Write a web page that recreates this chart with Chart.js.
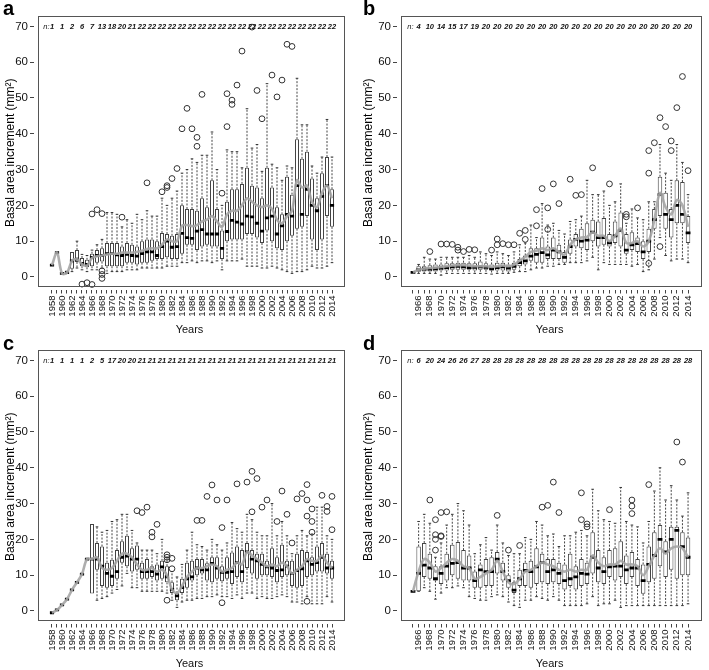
<!DOCTYPE html>
<html>
<head>
<meta charset="utf-8">
<script src="https://cdn.jsdelivr.net/npm/chart.js@4.4.1/dist/chart.umd.min.js"></script>
<style>
  html, body { margin: 0; padding: 0; background: #fff; }
  #wrap { position: relative; width: 709px; height: 670px; }
  canvas { position: absolute; }
</style>
</head>
<body>
<div id="wrap">
  <canvas id="pa" width="354" height="335" style="left:0;top:0;width:354px;height:335px"></canvas>
  <canvas id="pb" width="355" height="335" style="left:354px;top:0;width:355px;height:335px"></canvas>
  <canvas id="pc" width="354" height="335" style="left:0;top:334px;width:354px;height:335px"></canvas>
  <canvas id="pd" width="355" height="335" style="left:354px;top:334px;width:355px;height:335px"></canvas>
</div>
<script>
// categories
const yearsAC = [1958, 1959,
  1960, 1961, 1962, 1963, 1964, 1965, 1966, 1967, 1968, 1969,
  1970, 1971, 1972, 1973, 1974, 1975, 1976, 1977, 1978, 1979,
  1980, 1981, 1982, 1983, 1984, 1985, 1986, 1987, 1988, 1989,
  1990, 1991, 1992, 1993, 1994, 1995, 1996, 1997, 1998, 1999,
  2000, 2001, 2002, 2003, 2004, 2005, 2006, 2007, 2008, 2009,
  2010, 2011, 2012, 2013, 2014];
const yearsBD = [1965, 1966, 1967, 1968, 1969,
  1970, 1971, 1972, 1973, 1974, 1975, 1976, 1977, 1978, 1979,
  1980, 1981, 1982, 1983, 1984, 1985, 1986, 1987, 1988, 1989,
  1990, 1991, 1992, 1993, 1994, 1995, 1996, 1997, 1998, 1999,
  2000, 2001, 2002, 2003, 2004, 2005, 2006, 2007, 2008, 2009,
  2010, 2011, 2012, 2013, 2014];
const yTicks = [0, 10, 20, 30, 40, 50, 60, 70];

// panel a
const aMed = [3.3, 6.8,
  1.0, 1.2, 4.5, 5.0, 3.8, 3.5, 5.5, 6.0, 6.0, 6.5,
  6.5, 6.2, 6.0, 6.3, 6.0, 5.8, 6.5, 7.0, 7.0, 6.0,
  8.5, 10.0, 8.3, 8.5, 12.2, 11.0, 10.8, 12.8, 13.2, 12.0,
  12.0, 12.0, 8.0, 12.7, 15.8, 15.3, 14.8, 17.0, 16.8, 15.0,
  12.8, 16.5, 17.0, 12.0, 14.3, 17.5, 17.0, 25.5, 17.5, 24.5,
  20.0, 18.5, 22.5, 25.5, 20.0];
const aQ1 = [null, null,
  null, 0.9, 2.3, 4.2, 3.0, 2.7, 3.0, 4.0, 4.3, 3.0,
  3.0, 3.0, 3.0, 4.0, 4.0, 3.5, 4.0, 4.0, 4.5, 5.0,
  5.0, 5.5, 5.0, 5.0, 6.5, 9.0, 9.0, 7.5, 8.5, 9.0,
  8.5, 8.5, 5.0, 10.0, 10.5, 10.5, 10.5, 12.0, 12.0, 11.0,
  9.5, 13.0, 10.0, 8.0, 7.5, 10.0, 11.5, 13.5, 14.0, 17.0,
  10.5, 7.5, 10.5, 17.0, 14.0];
const aQ3 = [null, null,
  null, 1.8, 7.0, 7.5, 5.3, 4.8, 6.5, 7.5, 8.0, 9.5,
  9.5, 9.5, 8.5, 9.5, 9.0, 8.5, 10.0, 10.5, 10.5, 10.0,
  12.3, 12.0, 11.5, 12.0, 20.0, 19.0, 19.0, 18.5, 22.0, 19.5,
  27.0, 19.0, 13.0, 21.0, 24.5, 24.5, 26.0, 30.5, 25.5, 25.0,
  22.0, 30.5, 25.0, 19.5, 17.5, 28.0, 23.0, 38.5, 33.0, 35.0,
  27.5, 22.0, 29.0, 33.5, 24.5];
const aLo = [null, null,
  null, null, 1.5, 2.5, 2.0, 1.5, 2.0, 2.0, 2.5, 1.0,
  1.5, 1.5, 1.5, 2.0, 2.0, 2.0, 2.5, 2.5, 2.5, 2.5,
  2.5, 3.0, 3.0, 3.0, 4.0, 4.0, 4.5, 4.0, 4.5, 4.5,
  4.0, 4.5, 2.0, 4.5, 4.5, 4.5, 5.0, 3.0, 3.0, 3.0,
  2.5, 2.5, 3.0, 2.5, 2.0, 1.5, 1.0, 1.5, 1.5, 2.0,
  3.0, 2.5, 2.5, 3.0, 4.0];
const aHi = [null, null,
  null, null, null, 10.0, 6.3, 6.0, 7.5, 9.0, 10.5, 18.0,
  18.0, 17.5, 14.0, 16.0, 15.0, 17.5, 16.0, 18.5, 17.0, 17.0,
  22.0, 20.0, 22.0, 24.0, 29.0, 30.0, 33.0, 32.0, 34.0, 34.0,
  40.5, 30.0, 20.0, 35.5, 35.0, 35.0, 30.5, 47.0, 36.0, 37.0,
  29.5, 54.0, 31.5, 30.5, 27.0, 31.0, 30.5, 55.5, 42.5, 42.5,
  31.0, 29.0, 33.5, 44.0, 33.5];
const aMean = [3.3, 6.8,
  1.0, 1.2, 4.5, 5.0, 3.6, 3.2, 5.3, 5.8, 6.0, 6.3,
  6.5, 6.5, 6.8, 6.8, 6.8, 7.0, 7.3, 7.8, 8.0, 8.0,
  9.0, 10.5, 10.0, 10.0, 14.3, 14.5, 14.2, 14.5, 15.5, 16.0,
  17.0, 15.5, 14.0, 17.5, 18.5, 18.5, 20.0, 22.0, 21.0, 20.0,
  19.5, 20.0, 19.0, 16.0, 15.0, 17.0, 18.5, 27.0, 25.0, 25.5,
  21.0, 19.5, 23.5, 25.5, 22.0];
const aOut = [[1964, -2.0], [1965, -1.6], [1966, -2.1], [1966, 17.6], [1967, 18.8],
  [1968, 17.7], [1968, 1.7], [1968, 0.7], [1968, -0.4], [1972, 16.7], [1977, 26.3],
  [1980, 23.8], [1981, 25.0], [1981, 25.5], [1982, 27.5], [1983, 30.3], [1984, 41.4],
  [1985, 47.1], [1986, 41.4], [1987, 39.0], [1987, 36.5], [1988, 51.0], [1992, 23.4],
  [1993, 51.2], [1993, 42.0], [1994, 49.4], [1994, 48.2], [1995, 53.6], [1996, 63.1],
  [1998, 69.8], [1999, 52.1], [2000, 44.2], [2002, 56.4], [2003, 50.3], [2004, 55.0],
  [2005, 65.0], [2006, 64.4]];
const aN = [1, 1, 2, 6, 7, 13, 18, 20, 21, 22, 22, 22, 22, 22, 22, 22, 22, 22, 22,
  22, 22, 22, 22, 22, 22, 22, 22, 22, 22];

// panel b
const bMed = [1.3, 2.0, 2.2, 2.2, 2.3,
  2.5, 2.6, 2.8, 3.0, 2.8, 2.6, 2.7, 2.8, 2.7, 2.3,
  2.6, 2.8, 2.5, 3.0, 4.0, 4.5, 5.8, 6.3, 6.8, 6.2,
  7.5, 7.0, 5.5, 8.5, 10.5, 10.0, 10.3, 12.5, 11.0, 11.0,
  9.5, 11.5, 13.0, 7.5, 9.0, 9.3, 7.0, 10.0, 16.0, 23.0,
  17.5, 16.0, 20.0, 17.5, 12.3];
const bQ1 = [null, 1.5, 1.5, 1.5, 1.5,
  1.8, 1.8, 2.0, 2.0, 2.0, 2.0, 1.8, 2.0, 2.0, 1.8,
  1.8, 1.8, 1.5, 2.0, 3.0, 3.5, 4.5, 4.0, 4.0, 5.0,
  5.0, 5.0, 4.0, 6.5, 8.5, 8.0, 7.5, 10.0, 8.5, 9.0,
  8.5, 9.5, 8.5, 6.5, 7.5, 7.0, 5.0, 7.0, 13.5, 17.0,
  13.5, 11.0, 15.0, 15.0, 9.5];
const bQ3 = [null, 3.0, 3.0, 3.3, 3.5,
  3.5, 3.8, 3.8, 4.0, 4.0, 3.8, 3.8, 4.3, 3.8, 3.5,
  4.0, 4.0, 3.5, 4.0, 5.0, 6.0, 8.0, 8.0, 11.0, 8.5,
  11.0, 9.0, 7.0, 10.5, 12.0, 13.5, 15.0, 16.0, 15.5, 16.5,
  12.0, 15.5, 18.0, 12.0, 12.5, 11.0, 10.0, 13.5, 19.0, 28.0,
  23.5, 19.0, 27.0, 26.5, 17.0];
const bLo = [null, 1.0, 1.0, 1.0, 1.0,
  0.5, 1.0, 1.0, 1.0, 1.0, 1.0, 1.0, 1.0, 1.0, 0.8,
  1.0, 1.0, 1.0, 1.3, 1.5, 1.5, 2.0, 2.5, 2.5, 3.0,
  3.0, 3.5, 3.5, 4.0, 4.0, 4.0, 4.5, 5.5, 2.0, 4.0,
  3.5, 3.5, 3.5, 3.5, 3.0, 3.5, 1.5, 2.0, 5.0, 11.0,
  6.0, 4.5, 5.0, 5.0, 4.0];
const bHi = [null, 3.5, 5.5, 5.0, 5.0,
  5.5, 5.5, 5.5, 5.5, 5.5, 6.0, 5.5, 7.0, 6.5, 6.0,
  7.0, 6.5, 6.0, 7.0, 9.0, 9.5, 14.5, 11.0, 20.5, 14.5,
  15.0, 13.0, 12.0, 15.5, 16.0, 17.0, 27.0, 23.0, 23.0, 24.0,
  20.0, 21.0, 26.0, 15.0, 19.0, 16.5, 16.0, 21.0, 21.0, 37.0,
  29.0, 27.0, 37.0, 32.0, 23.0];
const bMean = [1.3, 2.0, 2.3, 2.5, 2.6,
  2.8, 3.0, 3.2, 3.3, 3.3, 3.2, 3.0, 3.0, 3.0, 2.8,
  3.0, 3.2, 3.0, 3.4, 4.6, 5.6, 7.0, 7.3, 8.0, 7.5,
  8.0, 7.0, 6.2, 9.0, 10.5, 11.0, 11.2, 12.5, 11.5, 11.5,
  10.0, 11.5, 13.5, 9.5, 9.5, 10.0, 8.5, 10.0, 16.0, 23.5,
  19.5, 17.5, 21.5, 20.0, 14.0];
const bOut = [[1968, 7.1], [1970, 9.2], [1971, 9.2], [1972, 9.1], [1973, 8.3], [1973, 7.5],
  [1974, 7.1], [1975, 7.7], [1976, 7.6], [1979, 7.5], [1980, 10.6], [1980, 9.0],
  [1981, 9.3], [1982, 9.0], [1983, 9.0], [1984, 12.2], [1985, 13.0], [1985, 10.5],
  [1987, 18.8], [1987, 14.3], [1988, 24.7], [1989, 19.3], [1989, 13.3], [1990, 26.0],
  [1991, 20.5], [1993, 27.3], [1994, 22.8], [1995, 23.0], [1997, 30.5], [2000, 26.0],
  [2003, 17.5], [2003, 16.8], [2005, 19.3], [2007, 29.0], [2007, 35.3], [2007, 3.8],
  [2008, 37.5], [2009, 44.5], [2009, 8.5], [2010, 42.0], [2011, 38.0], [2011, 35.3],
  [2012, 47.3], [2013, 56.0], [2014, 29.7]];
const bN = [4, 10, 14, 15, 17, 19, 20, 20, 20, 20, 20, 20, 20, 20, 20, 20, 20, 20, 20,
  20, 20, 20, 20, 20, 20];

// panel c
const cMed = [-0.5, 0.3,
  1.7, 3.3, 5.9, 8.0, 10.3, 14.5, 14.5, 14.5, 12.5, 10.5,
  9.7, 11.0, 15.0, 15.3, 14.5, 14.5, 11.0, 11.0, 11.0, 10.3,
  12.3, 9.5, 6.0, 4.2, 6.5, 9.0, 9.5, 12.0, 11.5, 11.5,
  13.3, 12.0, 10.8, 10.8, 11.0, 13.5, 11.0, 16.5, 14.5, 14.0,
  13.0, 12.3, 12.0, 11.3, 11.5, 12.5, 10.5, 11.3, 11.8, 14.0,
  13.0, 13.5, 15.0, 12.0, 12.0];
const cQ1 = [null, null,
  null, null, null, null, null, null, 4.9, 11.5, 7.0, 6.5,
  7.0, 9.0, 13.5, 12.5, 11.0, 11.5, 9.0, 9.0, 9.5, 8.5,
  9.0, 8.0, 5.0, 3.0, 5.0, 6.5, 8.5, 10.0, 10.5, 8.5,
  8.0, 9.0, 8.3, 9.0, 7.5, 9.5, 8.0, 12.0, 10.5, 9.0,
  10.0, 10.0, 9.5, 8.0, 9.5, 10.0, 7.0, 6.5, 7.0, 9.5,
  10.0, 11.0, 11.0, 10.5, 9.0];
const cQ3 = [null, null,
  null, null, null, null, null, null, 24.3, 19.0, 18.0, 13.5,
  14.3, 17.0, 19.5, 21.0, 17.5, 18.3, 13.5, 14.5, 12.5, 13.0,
  14.0, 12.5, 8.0, 5.0, 9.0, 13.5, 14.0, 14.5, 14.5, 13.3,
  15.0, 15.0, 12.5, 15.0, 16.3, 18.0, 17.0, 19.0, 17.0, 16.0,
  16.0, 14.0, 17.5, 15.0, 18.5, 14.0, 14.0, 16.0, 17.0, 16.5,
  15.0, 18.0, 19.0, 16.0, 14.0];
const cLo = [null, null,
  null, null, null, null, null, null, null, 3.0, 3.5, 4.0,
  5.0, 6.0, 7.0, 10.5, 6.5, 6.5, 5.5, 5.5, 5.5, 5.5,
  5.5, 5.0, 3.0, 1.0, 2.5, 3.0, 3.0, 3.5, 3.5, 4.0,
  4.0, 4.5, 4.0, 4.0, 3.5, 4.5, 3.5, 5.0, 5.0, 3.5,
  4.0, 3.5, 3.5, 4.0, 4.5, 4.0, 2.5, 2.5, 2.0, 4.0,
  2.0, 2.0, 2.0, 4.0, 2.5];
const cHi = [null, null,
  null, null, null, null, null, null, null, 23.5, 22.0, 22.5,
  25.0, 25.5, 27.0, 27.0, 22.5, 19.0, 17.0, 17.0, 17.0, 16.0,
  20.0, 14.5, 11.0, 9.5, 13.0, 17.0, 22.0, 18.5, 18.0, 17.0,
  20.0, 18.5, 17.0, 19.0, 24.7, 23.0, 22.0, 27.0, 25.5, 22.0,
  21.0, 21.0, 30.0, 21.0, 25.0, 21.0, 16.0, 21.0, 22.5, 21.0,
  21.5, 29.0, 29.0, 21.0, 20.0];
const cMean = [-0.5, 0.3,
  1.7, 3.3, 5.9, 8.0, 10.3, 14.5, 14.5, 15.0, 12.0, 11.5,
  12.0, 14.0, 16.0, 16.0, 15.0, 13.0, 11.5, 11.5, 12.0, 11.0,
  11.5, 10.0, 6.0, 5.0, 7.0, 9.5, 11.0, 12.0, 12.0, 12.5,
  13.0, 12.5, 11.0, 11.5, 12.0, 13.5, 13.0, 16.5, 15.5, 14.5,
  13.5, 12.5, 13.0, 12.5, 13.5, 12.5, 10.5, 11.5, 12.5, 14.5,
  14.0, 14.0, 15.5, 13.5, 12.0];
const cOut = [[1975, 28.0], [1976, 27.5], [1977, 29.0], [1978, 22.0], [1978, 20.7],
  [1979, 24.2], [1981, 15.7], [1981, 15.0], [1981, 14.3], [1981, 3.0], [1982, 14.7],
  [1982, 11.8], [1987, 25.3], [1988, 25.3], [1989, 32.0], [1990, 35.2], [1991, 31.0],
  [1992, 23.3], [1992, 2.3], [1993, 31.0], [1995, 35.5], [1997, 36.0], [1998, 39.0],
  [1998, 27.7], [1999, 37.0], [2000, 29.0], [2001, 31.0], [2003, 25.0], [2004, 33.5],
  [2005, 27.0], [2006, 19.0], [2007, 31.3], [2008, 32.8], [2009, 35.3], [2009, 31.0],
  [2009, 26.5], [2009, 2.7], [2010, 28.5], [2010, 25.0], [2010, 22.0], [2012, 32.3],
  [2013, 29.2], [2013, 27.8], [2014, 32.0], [2014, 22.7]];
const cN = [1, 1, 1, 1, 2, 5, 17, 20, 20, 21, 21, 21, 21, 21, 21, 21, 21, 21, 21,
  21, 21, 21, 21, 21, 21, 21, 21, 21, 21];

// panel d
const dMed = [5.5, 10.5, 12.8, 12.0, 9.0,
  10.5, 12.5, 13.3, 13.5, 12.0, 12.0, 8.5, 11.5, 11.0, 11.0,
  14.5, 11.0, 8.5, 5.8, 9.0, 11.3, 11.0, 12.3, 13.5, 11.0,
  11.5, 10.5, 8.5, 9.0, 9.5, 10.5, 10.3, 15.0, 12.0, 11.0,
  12.3, 12.5, 12.5, 11.5, 12.0, 12.0, 8.5, 13.0, 15.5, 20.0,
  16.5, 20.0, 22.5, 18.0, 15.0];
const dQ1 = [null, 5.5, 9.5, 9.0, 8.5,
  7.5, 8.5, 10.0, 9.0, 8.5, 8.5, 6.5, 6.5, 7.0, 7.0,
  10.5, 8.5, 6.5, 5.0, 7.0, 7.0, 6.5, 7.5, 8.0, 7.5,
  8.0, 7.5, 6.0, 7.0, 6.0, 7.0, 7.5, 10.5, 8.0, 7.5,
  9.5, 8.5, 9.5, 7.5, 9.5, 7.0, 4.8, 8.0, 9.0, 12.5,
  9.5, 11.5, 9.0, 10.0, 10.0];
const dQ3 = [null, 18.0, 19.0, 16.0, 12.5,
  12.5, 16.0, 18.5, 19.3, 17.0, 15.5, 11.0, 13.0, 14.5, 15.0,
  16.5, 13.5, 10.0, 8.0, 11.5, 13.5, 14.0, 17.5, 16.0, 14.5,
  14.5, 13.5, 13.0, 16.0, 12.5, 14.5, 13.5, 22.0, 17.0, 15.0,
  17.0, 17.5, 19.5, 15.5, 16.5, 14.5, 13.0, 18.0, 22.0, 24.0,
  19.5, 23.5, 23.5, 22.0, 20.5];
const dLo = [null, 5.5, 6.5, 5.5, 3.3,
  5.0, 6.5, 6.5, 7.0, 6.5, 4.0, 3.5, 3.0, 3.0, 4.0,
  4.5, 4.0, 2.5, 1.5, 1.0, 3.0, 3.0, 4.0, 3.5, 3.0,
  4.0, 3.0, 1.5, 1.5, 1.5, 1.5, 2.0, 4.0, 1.5, 2.0,
  2.0, 3.0, 1.0, 1.5, 1.5, 1.5, 1.5, 1.5, 1.5, 1.5,
  1.5, 1.5, 1.5, 1.5, 2.0];
const dHi = [null, 25.0, 27.0, 24.5, 15.0,
  19.0, 24.0, 27.0, 30.0, 28.0, 24.0, 16.0, 18.5, 20.5, 17.0,
  24.0, 19.0, 15.5, 16.0, 16.0, 20.5, 20.0, 25.0, 24.0, 21.0,
  21.5, 18.0, 21.0, 21.0, 22.0, 22.5, 21.0, 34.0, 28.0, 25.5,
  25.0, 24.5, 34.5, 25.0, 24.0, 23.5, 19.0, 25.0, 33.5, 40.0,
  31.0, 35.0, 31.0, 26.5, 33.0];
const dMean = [5.5, 11.0, 14.5, 13.5, 11.0,
  12.0, 13.5, 14.5, 14.0, 12.5, 12.0, 9.0, 9.5, 10.5, 11.5,
  14.0, 11.0, 8.0, 7.5, 9.0, 11.0, 11.5, 12.5, 13.5, 13.0,
  12.5, 11.5, 11.0, 11.5, 11.0, 11.5, 11.5, 15.5, 13.5, 12.5,
  13.0, 13.0, 14.0, 13.0, 13.0, 12.5, 10.0, 12.5, 15.5, 17.5,
  16.0, 17.5, 18.0, 17.5, 15.0];
const dOut = [[1968, 31.0], [1969, 25.5], [1969, 21.3], [1969, 20.0], [1969, 17.0],
  [1970, 27.5], [1970, 21.0], [1970, 20.8], [1971, 27.7], [1980, 26.7], [1982, 17.0],
  [1984, 18.3], [1988, 29.0], [1989, 29.5], [1990, 36.0], [1991, 27.5], [1995, 33.0],
  [1995, 25.5], [1996, 24.3], [1996, 23.5], [2000, 28.3], [2004, 31.0], [2004, 29.3],
  [2004, 27.2], [2007, 35.3], [2012, 47.2], [2013, 41.6]];
const dN = [6, 20, 24, 26, 26, 27, 28, 28, 28, 28, 28, 28, 28, 28, 28, 28, 28, 28, 28,
  28, 28, 28, 28, 28, 28];

const FONT = '"Liberation Sans", Arial, Helvetica, sans-serif';
const Y_MIN = -3.5, Y_MAX = 72.9, FRAME_BOTTOM = -2.66;
Chart.defaults.font.family = FONT;

// frame, sample sizes and panel letter
function decor(cfg) {
  return {
    id: 'decor',
    afterDatasetsDraw(chart) {
      const { ctx, chartArea, scales } = chart;
      const xs = scales.x, ys = scales.y;
      ctx.save();
      const left = Math.round(xs.getPixelForValue(cfg.frameLeft)) + 0.5;
      const bottom = Math.round(ys.getPixelForValue(FRAME_BOTTOM)) + 0.5;
      const top = Math.round(chartArea.top) + 0.5;
      const right = Math.round(chartArea.right) - 0.5;
      ctx.strokeStyle = '#555';
      ctx.lineWidth = 1;
      ctx.strokeRect(left, top, right - left, bottom - top);

      const nYears = cfg.years.filter(y => y % 2 === 0);
      const nY = chartArea.top + 10.5;
      ctx.fillStyle = '#111';
      ctx.font = 'italic bold 7.5px ' + FONT;
      ctx.textBaseline = 'middle';
      ctx.textAlign = 'center';
      nYears.forEach((yr, i) => ctx.fillText(String(cfg.n[i]), xs.getPixelForValue(yr), nY));
      ctx.textAlign = 'right';
      ctx.font = 'italic 7.5px ' + FONT;
      ctx.fillText('n:', xs.getPixelForValue(nYears[0]) - cfg.nGap, nY);

      ctx.fillStyle = '#000';
      ctx.font = 'bold 20px ' + FONT;
      ctx.textAlign = 'left';
      ctx.textBaseline = 'alphabetic';
      ctx.fillText(cfg.letter, cfg.letterX, cfg.letterY);
      ctx.restore();
    }
  };
}

function buildPanel(id, cfg) {
  const boxes = [], whiskers = [], caps = [], medians = [], trend = [];
  cfg.years.forEach((yr, i) => {
    if (cfg.q1[i] !== null) boxes.push({ x: yr, y: [cfg.q1[i], cfg.q3[i]] });
    if (cfg.med[i] !== null) medians.push({ x: yr, y: cfg.med[i] });
    if (cfg.hi[i] !== null) {
      whiskers.push({ x: yr, y: cfg.q3[i] }, { x: yr, y: cfg.hi[i] }, { x: yr, y: null });
      caps.push({ x: yr, y: cfg.hi[i] });
    }
    if (cfg.lo[i] !== null) {
      whiskers.push({ x: yr, y: cfg.q1[i] }, { x: yr, y: cfg.lo[i] }, { x: yr, y: null });
      caps.push({ x: yr, y: cfg.lo[i] });
    }
    trend.push({ x: yr, y: cfg.mean[i] });
  });
  const outliers = cfg.out.map(o => ({ x: o[0], y: o[1] }));

  new Chart(document.getElementById(id), {
    type: 'bar',
    data: {
      datasets: [
        {
          type: 'line', data: whiskers, order: 6,
          borderColor: '#444', borderWidth: 1, borderDash: [2, 1.5],
          pointRadius: 0, spanGaps: false, fill: false
        },
        {
          type: 'line', data: caps, order: 5, showLine: false,
          pointStyle: 'line', pointRadius: 1.3, pointBorderWidth: 1, pointBorderColor: '#333'
        },
        {
          data: boxes, order: 4,
          backgroundColor: '#fff', borderColor: '#444', borderWidth: 1,
          borderSkipped: false, barPercentage: 0.8, categoryPercentage: 1
        },
        {
          type: 'line', data: medians, order: 3, showLine: false,
          pointStyle: 'line', pointRadius: cfg.medRadius, pointBorderWidth: 2.8,
          pointBorderColor: '#000'
        },
        {
          type: 'line', data: trend, order: 2,
          borderColor: 'rgba(165,165,165,0.9)', borderWidth: 2.6, tension: 0.35,
          pointRadius: 0, fill: false
        },
        {
          type: 'line', data: outliers, order: 1, showLine: false,
          pointStyle: 'circle', pointRadius: 2.9, pointBorderWidth: 1,
          pointBorderColor: '#333', pointBackgroundColor: 'rgba(0,0,0,0)'
        }
      ]
    },
    options: {
      responsive: false,
      animation: false,
      events: [],
      layout: { padding: { left: 0, top: 16, right: cfg.padRight, bottom: 0 } },
      plugins: { legend: { display: false }, tooltip: { enabled: false } },
      scales: {
        x: {
          type: 'linear', min: cfg.xMin, max: cfg.xMax, offset: false,
          afterBuildTicks: s => { s.ticks = cfg.years.map(v => ({ value: v })); },
          afterFit: s => { s.height = 45.5; s.paddingLeft = 0; s.paddingRight = 0; },
          ticks: {
            autoSkip: false, minRotation: 90, maxRotation: 90, padding: 2,
            color: '#111', font: { size: 9.5 },
            callback: v => (v % 2 === 0 ? String(v) : '')
          },
          grid: { offset: false, drawOnChartArea: false, tickLength: 4, tickColor: '#444' },
          border: { display: false },
          title: {
            display: true, text: 'Years', color: '#111',
            font: { size: 11, lineHeight: 1 }, padding: { top: 0, bottom: 0 }
          }
        },
        y: {
          min: Y_MIN, max: Y_MAX,
          afterBuildTicks: s => { s.ticks = yTicks.map(v => ({ value: v })); },
          afterFit: s => { s.width = cfg.yAxisWidth; s.paddingTop = 0; s.paddingBottom = 0; },
          ticks: { color: '#111', font: { size: 11.5 }, padding: 2 },
          grid: { drawOnChartArea: false, tickLength: 4, tickColor: '#444' },
          border: { display: false },
          title: {
            display: true, text: 'Basal area increment (mm²)', color: '#000',
            font: { size: 12 }, padding: { top: cfg.yTitlePad, bottom: 0 }
          }
        }
      }
    },
    plugins: [decor(cfg)]
  });
}

buildPanel('pa', {
  letter: 'a', letterX: 3, letterY: 15, years: yearsAC, n: aN, nGap: 2.5,
  med: aMed, q1: aQ1, q3: aQ3, lo: aLo, hi: aHi, mean: aMean, out: aOut,
  xMin: 1954.4, xMax: 2016.6, frameLeft: 1955.2,
  yAxisWidth: 34, padRight: 9, yTitlePad: 3, medRadius: 2.1
});
buildPanel('pb', {
  letter: 'b', letterX: 9, letterY: 15, years: yearsBD, n: bN, nGap: 5,
  med: bMed, q1: bQ1, q3: bQ3, lo: bLo, hi: bHi, mean: bMean, out: bOut,
  xMin: 1962.15, xMax: 2016.52, frameLeft: 1962.85,
  yAxisWidth: 43, padRight: 1, yTitlePad: 7, medRadius: 2.4
});
buildPanel('pc', {
  letter: 'c', letterX: 3, letterY: 16, years: yearsAC, n: cN, nGap: 2.5,
  med: cMed, q1: cQ1, q3: cQ3, lo: cLo, hi: cHi, mean: cMean, out: cOut,
  xMin: 1954.4, xMax: 2016.6, frameLeft: 1955.2,
  yAxisWidth: 34, padRight: 9, yTitlePad: 3, medRadius: 2.1
});
buildPanel('pd', {
  letter: 'd', letterX: 9, letterY: 16, years: yearsBD, n: dN, nGap: 5,
  med: dMed, q1: dQ1, q3: dQ3, lo: dLo, hi: dHi, mean: dMean, out: dOut,
  xMin: 1962.15, xMax: 2016.52, frameLeft: 1962.85,
  yAxisWidth: 43, padRight: 1, yTitlePad: 7, medRadius: 2.4
});
</script>
</body>
</html>
